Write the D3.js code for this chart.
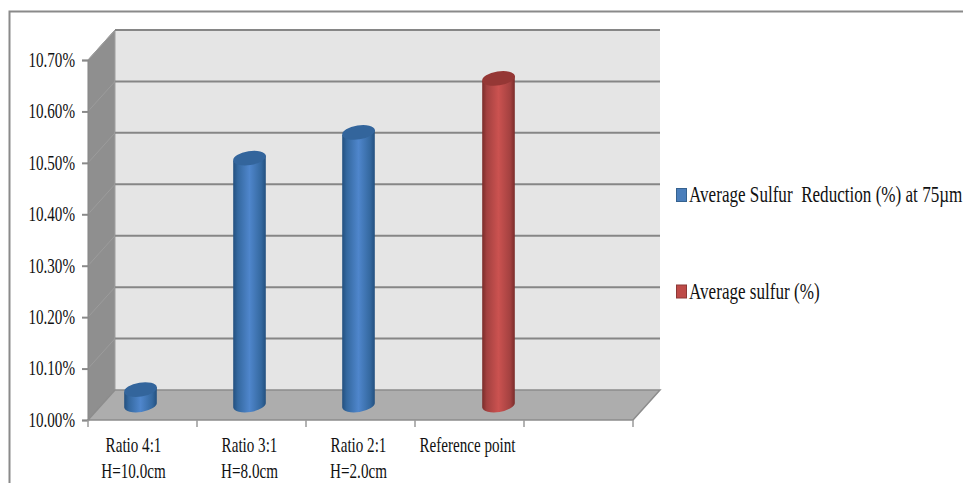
<!DOCTYPE html>
<html>
<head>
<meta charset="utf-8">
<script src="https://cdn.jsdelivr.net/npm/d3@7"></script>
<style>
  html, body { margin: 0; padding: 0; background: #fff; }
  svg { display: block; }
  text { font-family: "Liberation Serif", serif; fill: #111; }
</style>
</head>
<body>
<svg id="chart" width="963" height="483"></svg>
<script>
// Chart data
const categories = ["Ratio 4:1|H=10.0cm", "Ratio 3:1|H=8.0cm", "Ratio 2:1|H=2.0cm", "Reference point", " "];
const reductionValues = [10.03, 10.48, 10.53, null, null];
const sulfurValues = [null, null, null, 10.635, null];
const seriesNames = ["Average Sulfur  Reduction (%) at 75µm", "Average sulfur (%)"];
const yTicks = [10.0, 10.1, 10.2, 10.3, 10.4, 10.5, 10.6, 10.7];

const svg = d3.select("#chart");
const defs = svg.append("defs");

// Plot box: front edge of the floor plus the receding depth of the 3-D walls
const plotLeft = 88, plotRight = 633, plotBottom = 420, plotTop = 60;
const depthX = 27, depthY = -30;
const axisFont = 21, axisSqueeze = 0.72;      // narrow serif lettering
const legendFont = 22.5, legendSqueeze = 0.76;
const grid = "#868686";

const x = d3.scaleBand().domain(categories).range([plotLeft, plotRight]);
const xSeries = d3.scaleBand().domain(seriesNames).range([x.bandwidth() / 2 - 31, x.bandwidth() / 2 + 31]);
const y = d3.scaleLinear().domain([10.0, 10.7]).range([plotBottom, plotTop]);

// Frame around the figure
svg.append("path")
  .attr("d", "M9.5,483V11.5H963")
  .attr("fill", "none").attr("stroke", "#8a8a8a").attr("stroke-width", 2);

const poly = pts => "M" + pts.map(p => p.join(",")).join("L") + "Z";

// Back wall
svg.append("path")
  .attr("d", poly([[plotLeft + depthX, y(10.7) + depthY], [plotRight + depthX, y(10.7) + depthY],
                   [plotRight + depthX, plotBottom + depthY], [plotLeft + depthX, plotBottom + depthY]]))
  .attr("fill", "#e5e5e5");

// Side wall
svg.append("path")
  .attr("d", poly([[plotLeft, plotBottom], [plotLeft + depthX, plotBottom + depthY],
                   [plotLeft + depthX, y(10.7) + depthY], [plotLeft, y(10.7)]]))
  .attr("fill", "#8f8f8f").attr("stroke", "#a0a0a0").attr("stroke-width", 1);

// Gridlines wrap from the side wall across the back wall
svg.append("g").selectAll("line").data(yTicks.slice(1)).join("line")
  .attr("x1", plotLeft + depthX).attr("x2", plotRight + depthX)
  .attr("y1", d => y(d) + depthY).attr("y2", d => y(d) + depthY)
  .attr("stroke", grid).attr("stroke-width", 2);
svg.append("g").selectAll("line").data(yTicks.slice(1)).join("line")
  .attr("x1", plotLeft).attr("x2", plotLeft + depthX)
  .attr("y1", d => y(d)).attr("y2", d => y(d) + depthY)
  .attr("stroke", "#9c9c9c").attr("stroke-width", 1);

// Floor
svg.append("path")
  .attr("d", poly([[plotLeft, plotBottom], [plotRight, plotBottom], [plotRight + depthX, plotBottom + depthY], [plotLeft + depthX, plotBottom + depthY]]))
  .attr("fill", "#adadad").attr("stroke", "#8c8c8c").attr("stroke-width", 1.5);

// Value axis
const yAxis = d3.axisLeft(y).tickValues(yTicks).tickSize(6).tickPadding(7)
  .tickFormat(d => d.toFixed(2) + "%");
const yG = svg.append("g").attr("transform", `translate(${plotLeft},0)`).call(yAxis);
yG.attr("font-family", null).attr("font-size", null);
yG.select(".domain").attr("stroke", "#8a8a8a").attr("stroke-width", 1.5);
yG.selectAll(".tick line").attr("stroke", "#8a8a8a").attr("stroke-width", 2);
yG.selectAll(".tick text")
  .attr("font-size", axisFont)
  .attr("x", -13 / axisSqueeze)
  .attr("dy", "0.3em")
  .attr("transform", `scale(${axisSqueeze},1)`);

// Category axis: boundary ticks and two-line labels
const boundaries = categories.map(c => x(c)).concat(plotRight);
svg.append("g").selectAll("line").data(boundaries).join("line")
  .attr("x1", d => d).attr("x2", d => d)
  .attr("y1", plotBottom).attr("y2", plotBottom + 7)
  .attr("stroke", "#9a9a9a").attr("stroke-width", 1.5);

const labelShift = i => (i === 0 ? -9 : -2);
const catLabels = svg.append("g").selectAll("text").data(categories).join("text")
  .attr("text-anchor", "middle").attr("font-size", axisFont)
  .attr("transform", (c, i) =>
    `translate(${x(c) + x.bandwidth() / 2 + labelShift(i)},452) scale(${axisSqueeze},1)`);
catLabels.selectAll("tspan").data(c => c.split("|")).join("tspan")
  .attr("x", 0).attr("dy", (d, i) => (i ? 26 : 0)).text(d => d);

// Cylinder shading
function shade(id, edge, mid, center) {
  const g = defs.append("linearGradient").attr("id", id);
  [[0, edge], [0.14, mid], [0.5, center], [0.86, mid], [1, edge]].forEach(([o, c]) =>
    g.append("stop").attr("offset", o).attr("stop-color", c));
}
shade("bodyBlue", "#23507f", "#34689f", "#4f86cc");
shade("bodyRed", "#7a2c2a", "#a34140", "#cb5250");

const rx = 16.5, ry = 7, tilt = -9;
const cosT = Math.cos(tilt * Math.PI / 180), sinT = Math.sin(tilt * Math.PI / 180);

function cylinder(group, cat, value, body, cap, seriesName) {
  const cx = x(cat) + xSeries(seriesName) + xSeries.bandwidth() / 2 + depthX / 2;
  const yBase = y(10.0) + depthY / 2;
  const yTop = y(value) + depthY / 2;
  const dx = rx * cosT, dy = rx * sinT;
  group.append("path")
    .attr("d", `M${cx - dx},${yTop - dy}L${cx - dx},${yBase - dy}` +
               `A${rx},${ry} ${tilt} 0 0 ${cx + dx},${yBase + dy}` +
               `L${cx + dx},${yTop + dy}Z`)
    .attr("fill", `url(#${body})`);
  group.append("ellipse")
    .attr("rx", rx).attr("ry", ry)
    .attr("transform", `translate(${cx},${yTop}) rotate(${tilt})`)
    .attr("fill", cap);
}

const bars = svg.append("g");
categories.forEach((c, i) => {
  if (reductionValues[i] != null) cylinder(bars, c, reductionValues[i], "bodyBlue", "#33659c", seriesNames[0]);
  if (sulfurValues[i] != null) cylinder(bars, c, sulfurValues[i], "bodyRed", "#953735", seriesNames[1]);
});

// Legend
const legendColors = ["#4a7ebb", "#be4b48"];
const legendStroke = ["#35628f", "#8c3836"];
const legendY = d3.scalePoint().domain(seriesNames).range([195, 291.5]);
const legend = svg.append("g").selectAll("g").data(seriesNames).join("g")
  .attr("transform", d => `translate(676,${legendY(d)})`);
legend.append("rect")
  .attr("x", 0.5).attr("y", -6.5).attr("width", 10).attr("height", 13)
  .attr("fill", (d, i) => legendColors[i])
  .attr("stroke", (d, i) => legendStroke[i]).attr("stroke-width", 1);
legend.append("text")
  .attr("font-size", legendFont)
  .style("white-space", "pre")
  .attr("transform", `translate(13,7) scale(${legendSqueeze},1)`)
  .text(d => d);
</script>
</body>
</html>
